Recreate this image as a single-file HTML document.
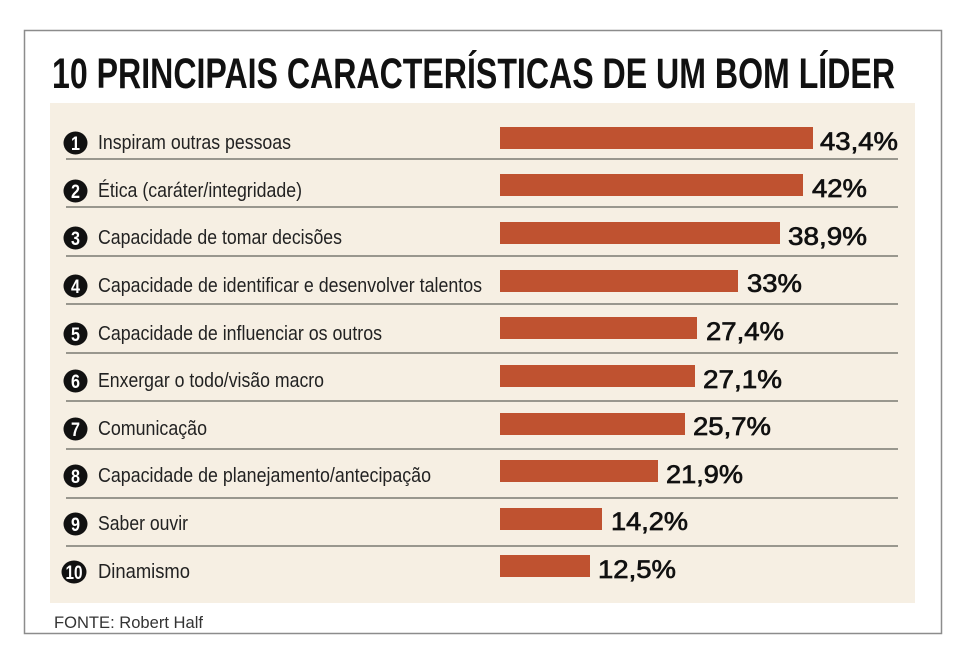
<!DOCTYPE html>
<html>
<head>
<meta charset="utf-8">
<style>
html,body{margin:0;padding:0;background:#fff;}
svg{display:block;}
.lbl{font-family:"Liberation Sans",sans-serif;font-size:20px;fill:#222;}
.val{font-family:"Liberation Sans",sans-serif;font-size:25px;fill:#111;stroke:#111;stroke-width:0.7;}
.num{font-family:"Liberation Sans",sans-serif;font-size:19px;fill:#fff;font-weight:bold;}
</style>
</head>
<body>
<svg width="960" height="655" viewBox="0 0 960 655" xmlns="http://www.w3.org/2000/svg">
<rect x="0" y="0" width="960" height="655" fill="#ffffff"/>
<rect x="24.5" y="30.5" width="917" height="603" fill="#fff" stroke="#8c8c8c" stroke-width="1.5"/>
<text x="52" y="88" font-family="Liberation Sans, sans-serif" font-weight="bold" font-size="43" fill="#111" textLength="843" lengthAdjust="spacingAndGlyphs">10 PRINCIPAIS CARACTERÍSTICAS DE UM BOM LÍDER</text>
<rect x="50" y="103" width="865" height="500" fill="#f6efe3"/>
<g stroke="#7a7a72" stroke-width="1.6">
<line x1="66" y1="159" x2="898" y2="159"/>
<line x1="66" y1="207" x2="898" y2="207"/>
<line x1="66" y1="256" x2="898" y2="256"/>
<line x1="66" y1="304" x2="898" y2="304"/>
<line x1="66" y1="353" x2="898" y2="353"/>
<line x1="66" y1="401" x2="898" y2="401"/>
<line x1="66" y1="449" x2="898" y2="449"/>
<line x1="66" y1="498" x2="898" y2="498"/>
<line x1="66" y1="546" x2="898" y2="546"/>
</g>
<g fill="#bf5230">
<rect x="500" y="127" width="313" height="22"/>
<rect x="500" y="174" width="303" height="22"/>
<rect x="500" y="222" width="280" height="22"/>
<rect x="500" y="270" width="238" height="22"/>
<rect x="500" y="317" width="197" height="22"/>
<rect x="500" y="365" width="195" height="22"/>
<rect x="500" y="413" width="185" height="22"/>
<rect x="500" y="460" width="158" height="22"/>
<rect x="500" y="508" width="102" height="22"/>
<rect x="500" y="555" width="90" height="22"/>
</g>
<g fill="#111">
<ellipse cx="75.5" cy="143" rx="12" ry="11.5"/>
<ellipse cx="75.5" cy="191" rx="12" ry="11.5"/>
<ellipse cx="75.5" cy="238" rx="12" ry="11.5"/>
<ellipse cx="75.5" cy="286" rx="12" ry="11.5"/>
<ellipse cx="75.5" cy="334" rx="12" ry="11.5"/>
<ellipse cx="75.5" cy="381" rx="12" ry="11.5"/>
<ellipse cx="75.5" cy="429" rx="12" ry="11.5"/>
<ellipse cx="75.5" cy="476" rx="12" ry="11.5"/>
<ellipse cx="75.5" cy="524" rx="12" ry="11.5"/>
<ellipse cx="74" cy="572" rx="12.5" ry="11.5"/>
</g>
<g text-anchor="middle">
<text x="75.5" y="150" class="num" textLength="9" lengthAdjust="spacingAndGlyphs">1</text>
<text x="75.5" y="198" class="num" textLength="9" lengthAdjust="spacingAndGlyphs">2</text>
<text x="75.5" y="245" class="num" textLength="9" lengthAdjust="spacingAndGlyphs">3</text>
<text x="75.5" y="293" class="num" textLength="9" lengthAdjust="spacingAndGlyphs">4</text>
<text x="75.5" y="341" class="num" textLength="9" lengthAdjust="spacingAndGlyphs">5</text>
<text x="75.5" y="388" class="num" textLength="9" lengthAdjust="spacingAndGlyphs">6</text>
<text x="75.5" y="436" class="num" textLength="9" lengthAdjust="spacingAndGlyphs">7</text>
<text x="75.5" y="483" class="num" textLength="9" lengthAdjust="spacingAndGlyphs">8</text>
<text x="75.5" y="531" class="num" textLength="9" lengthAdjust="spacingAndGlyphs">9</text>
<text x="74" y="579" class="num" textLength="17" lengthAdjust="spacingAndGlyphs">10</text>
</g>
<text class="lbl" x="98" y="149" textLength="193" lengthAdjust="spacingAndGlyphs">Inspiram outras pessoas</text>
<text class="lbl" x="98" y="197" textLength="204" lengthAdjust="spacingAndGlyphs">Ética (caráter/integridade)</text>
<text class="lbl" x="98" y="244" textLength="244" lengthAdjust="spacingAndGlyphs">Capacidade de tomar decisões</text>
<text class="lbl" x="98" y="292" textLength="384" lengthAdjust="spacingAndGlyphs">Capacidade de identificar e desenvolver talentos</text>
<text class="lbl" x="98" y="340" textLength="284" lengthAdjust="spacingAndGlyphs">Capacidade de influenciar os outros</text>
<text class="lbl" x="98" y="387" textLength="226" lengthAdjust="spacingAndGlyphs">Enxergar o todo/visão macro</text>
<text class="lbl" x="98" y="435" textLength="109" lengthAdjust="spacingAndGlyphs">Comunicação</text>
<text class="lbl" x="98" y="482" textLength="333" lengthAdjust="spacingAndGlyphs">Capacidade de planejamento/antecipação</text>
<text class="lbl" x="98" y="530" textLength="90" lengthAdjust="spacingAndGlyphs">Saber ouvir</text>
<text class="lbl" x="98" y="578" textLength="92" lengthAdjust="spacingAndGlyphs">Dinamismo</text>
<text class="val" x="820" y="150" textLength="78" lengthAdjust="spacingAndGlyphs">43,4%</text>
<text class="val" x="812" y="197" textLength="55" lengthAdjust="spacingAndGlyphs">42%</text>
<text class="val" x="788" y="245" textLength="79" lengthAdjust="spacingAndGlyphs">38,9%</text>
<text class="val" x="747" y="292" textLength="55" lengthAdjust="spacingAndGlyphs">33%</text>
<text class="val" x="706" y="340" textLength="78" lengthAdjust="spacingAndGlyphs">27,4%</text>
<text class="val" x="703" y="388" textLength="79" lengthAdjust="spacingAndGlyphs">27,1%</text>
<text class="val" x="693" y="435" textLength="78" lengthAdjust="spacingAndGlyphs">25,7%</text>
<text class="val" x="666" y="483" textLength="77" lengthAdjust="spacingAndGlyphs">21,9%</text>
<text class="val" x="611" y="530" textLength="77" lengthAdjust="spacingAndGlyphs">14,2%</text>
<text class="val" x="598" y="578" textLength="78" lengthAdjust="spacingAndGlyphs">12,5%</text>
<text x="54" y="628" font-family="Liberation Sans, sans-serif" font-size="17" fill="#333" textLength="149" lengthAdjust="spacingAndGlyphs">FONTE: Robert Half</text>
</svg>
</body>
</html>
